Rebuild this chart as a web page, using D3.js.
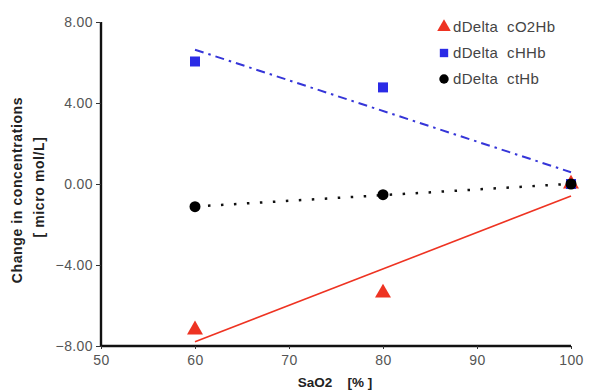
<!DOCTYPE html>
<html><head><meta charset="utf-8">
<script src="https://cdn.jsdelivr.net/npm/d3@7"></script>
<style>body{margin:0;background:#fff}svg{display:block}text{font-family:"Liberation Sans",Arial,sans-serif}</style>
</head><body><svg id="c" width="589" height="392"></svg>
<script>
const sao2 = [60, 80, 100];
const cO2Hb = [-7.2, -5.38, 0.0];
const cHHb = [6.05, 4.77, 0.0];
const ctHb = [-1.12, -0.53, 0.0];
const xTicks = [50, 60, 70, 80, 90, 100];
const yTicks = [-8, -4, 0, 4, 8];
const seriesNames = ["dDelta  cO2Hb", "dDelta  cHHb", "dDelta  ctHb"];

const svg = d3.select("#c");
const x = d3.scaleLinear().domain([50, 100]).range([101, 571]);
const y = d3.scaleLinear().domain([-8, 8]).range([346, 22]);

// axes
const xa = svg.append("g").attr("transform", "translate(0,346)")
  .call(d3.axisBottom(x).tickValues(xTicks).tickSize(3).tickPadding(6).tickFormat(d3.format("d")));
const ya = svg.append("g").attr("transform", "translate(101,0)")
  .call(d3.axisLeft(y).tickValues(yTicks).tickSize(5).tickPadding(3).tickFormat(d3.format(".2f")));
[xa, ya].forEach(g => {
  g.select(".domain").attr("stroke", "#111").attr("stroke-width", 2.4);
  g.selectAll(".tick line").attr("stroke", "#333");
  g.selectAll(".tick text").attr("fill", "#555").attr("font-size", 14).attr("letter-spacing", 0.4);
});
ya.select(".domain").attr("d", `M0,${y(8)}V${y(-8)}`);
xa.select(".domain").attr("d", `M${x(50)},0H${x(100)}`);

// titles
svg.append("text").attr("x", 335).attr("y", 387).attr("text-anchor", "middle")
  .attr("font-weight", "bold").attr("font-size", 13.5).attr("fill", "#222")
  .attr("xml:space", "preserve").text("SaO2    [% ]");
svg.append("text").attr("transform", "translate(22,190) rotate(-90)").attr("text-anchor", "middle")
  .attr("font-weight", "bold").attr("font-size", 14).attr("letter-spacing", 0.6).attr("fill", "#222").text("Change in  concentrations");
svg.append("text").attr("transform", "translate(44,187) rotate(-90)").attr("text-anchor", "middle")
  .attr("font-weight", "bold").attr("font-size", 14).attr("letter-spacing", 0.6).attr("fill", "#222").text("[ micro mol/L]");

function regress(xs, ys) {
  const mx = d3.mean(xs), my = d3.mean(ys);
  const s = d3.sum(xs, (v, i) => (v - mx) * (ys[i] - my)) / d3.sum(xs, v => (v - mx) ** 2);
  return v => my + s * (v - mx);
}
const line = d3.line().x(d => x(d[0])).y(d => y(d[1]));
function trend(ys, color, width, dash) {
  const f = regress(sao2, ys);
  const ends = d3.extent(sao2).map(v => [v, f(v)]);
  svg.append("path").attr("d", line(ends)).attr("fill", "none").attr("stroke", color)
    .attr("stroke-width", width).attr("stroke-dasharray", dash);
}
const red = "#ee3322", blue = "#2b2be6", black = "#000";
trend(cO2Hb, red, 1.6, null);
trend(cHHb, "#3535d8", 2, "9,5,2.5,5");
trend(ctHb, "#111", 2.5, "2.5,10.5");

const tri = d3.symbol().type(d3.symbolTriangle).size(110);
const sq = d3.symbol().type(d3.symbolSquare).size(100);
const circ = d3.symbol().type(d3.symbolCircle).size(95);
function pts(ys, sym, color) {
  svg.append("g").selectAll("path").data(sao2).join("path")
    .attr("transform", (d, i) => `translate(${x(d)},${y(ys[i])})`)
    .attr("d", sym).attr("fill", color);
}
pts(cO2Hb, tri, red);
pts(cHHb, sq, blue);
pts(ctHb, circ, black);

// legend
const leg = svg.append("g");
const cols = [red, blue, black];
seriesNames.forEach((n, i) => {
  const yy = 27 + i * 26;
  leg.append("path").attr("transform", `translate(444,${yy})`)
    .attr("d", d3.symbol().type([d3.symbolTriangle, d3.symbolSquare, d3.symbolCircle][i]).size(i === 0 ? 80 : 70))
    .attr("fill", cols[i]);
  leg.append("text").attr("x", 453).attr("y", yy + 5).attr("font-size", 15).attr("letter-spacing", 0.3).attr("fill", "#444")
    .attr("xml:space", "preserve").text(n);
});
</script></body></html>
